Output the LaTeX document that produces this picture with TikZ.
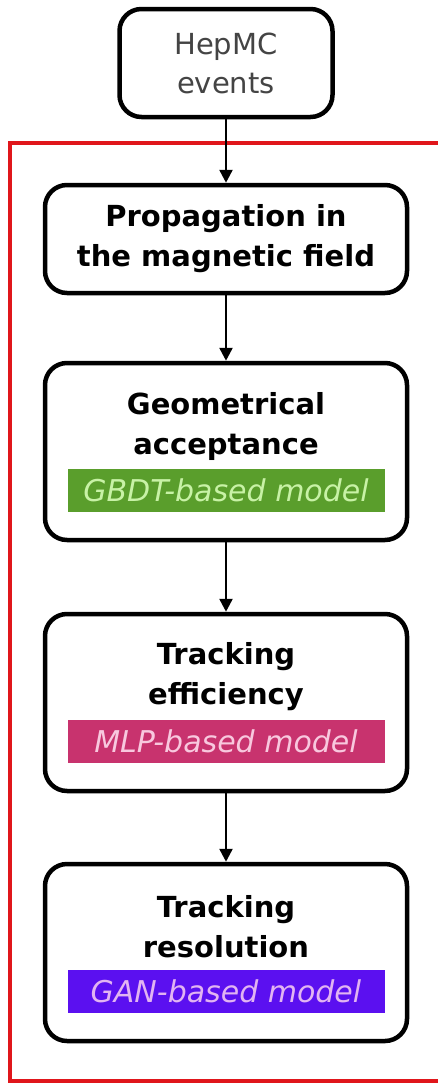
\documentclass[tikz,border=0pt]{standalone}
\usepackage{fontspec}
\setmainfont{DejaVu Sans}
\usepackage{xcolor}
\usetikzlibrary{positioning,arrows.meta}
\definecolor{frame}{HTML}{E0161B}
\definecolor{gbdt}{HTML}{5A9E2C}
\definecolor{gbdttxt}{HTML}{C8F2A6}
\definecolor{mlp}{HTML}{C8336E}
\definecolor{mlptxt}{HTML}{F8C8DE}
\definecolor{gan}{HTML}{5B10F0}
\definecolor{gantxt}{HTML}{E2B4F2}
\definecolor{hepgray}{HTML}{444444}

\begin{document}
\begin{tikzpicture}[
      x=1pt, y=-1pt,
      blk/.style={
        draw,
        fill=white,
        line width=4.5pt,
        rounded corners=22pt,
        minimum width=362pt,
        minimum height=177pt
      },
      ttl/.style={
        font=\fontsize{29}{40}\selectfont\bfseries,
        align=center,
        text=black
      },
      model/.style={
        minimum width=317pt,
        minimum height=43pt,
        inner sep=0pt,
        font=\fontsize{30}{32}\selectfont\itshape
      },
      flow/.style={
        line width=2.5pt,
        -{Triangle[length=13pt,width=13pt]}
      }
      ]
        \useasboundingbox (0,0) rectangle (438,1084);

        % cadre rouge
        \draw[frame, line width=3.5pt] (10,143) rectangle (439.5,1081);

        \node[blk, minimum width=213pt, minimum height=108pt, align=center,
              font=\fontsize{29}{39}\selectfont, text=hepgray] (hepmc) at (226,63) {HepMC\\events};

        \node[blk, ttl, minimum height=108pt] (prop) at (226,239) {Propagation in\\the magnetic field};

        \node[blk] (geo) at (226,451.5) {};
        \node[ttl] (geottl) at (226,426) {Geometrical\\acceptance};
        \node[model, fill=gbdt, text=gbdttxt] (geomod) at (226,490) {GBDT-based model};

        \node[blk] (eff) at (226,702.5) {};
        \node[ttl] (effttl) at (226,677) {Tracking\\efficiency};
        \node[model, fill=mlp, text=mlptxt] (effmod) at (226,741) {MLP-based model};

        \node[blk] (res) at (226,952.5) {};
        \node[ttl] (resttl) at (226,927) {Tracking\\resolution};
        \node[model, fill=gan, text=gantxt] (resmod) at (226,991) {GAN-based model};

        \draw[flow] (hepmc) -- (prop);
        \draw[flow] (prop) -- (geo);
        \draw[flow] (geo) -- (eff);
        \draw[flow] (eff) -- (res);
    \end{tikzpicture}
\end{document}
